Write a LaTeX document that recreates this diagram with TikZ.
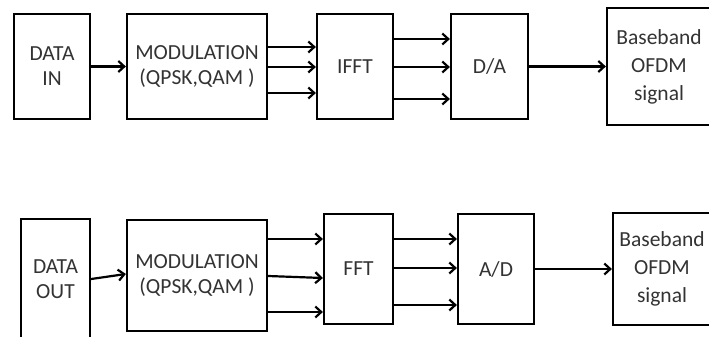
\documentclass[tikz,border=0pt]{standalone}
\usepackage{fontspec}
\setmainfont{Carlito}
\usepackage{xcolor}
\usepackage{tikz}
\usetikzlibrary{arrows.meta,positioning}

\begin{document}
\begin{tikzpicture}[
        x=1pt, y=-1pt,
        font=\fontsize{21.5}{25}\selectfont,
        >={Straight Barb[length=6pt,width=11pt]},
        blk/.style={draw=black, line width=2.2pt, fill=white, inner sep=0pt, align=center, text=black!80},
        sig/.style={->, line width=2.2pt, draw=black}
    ]

    % frame of the picture
    \clip (0,0) rectangle (709,337);
    \fill[white] (0,0) rectangle (709,337);

    % ==========================================
    % (A) Transmitter chain
    % ==========================================
    \node[blk, minimum width=76pt, minimum height=105pt] (data_a) at (52, 66.5) {DATA\\IN};
    \node[blk, minimum width=140pt, minimum height=105pt] (mod_a) at (197, 66.5) {MODULATION\\(QPSK,QAM )};
    \node[blk, minimum width=76pt, minimum height=105pt] (fft_a) at (355, 66.5) {IFFT};
    \node[blk, minimum width=77pt, minimum height=105pt] (conv_a) at (489.5, 66.5) {D/A};
    \node[blk, minimum width=104pt, minimum height=117pt, font=\fontsize{21.5}{28}\selectfont] (out_a) at (659, 66.5) {Baseband\\OFDM\\signal};

    \draw[sig] (data_a.east) -- (mod_a.west);
    \foreach \s/\t in {19.5/19.5, -0.5/-0.5, -26.5/-26.5} {
        \draw[sig] ([yshift=\s pt]mod_a.east) -- ([yshift=\t pt]fft_a.west);
    }
    \foreach \s in {27.5, -0.5, -32.5} {
        \draw[sig] ([yshift=\s pt]fft_a.east) -- ([yshift=\s pt]conv_a.west);
    }
    \draw[sig] (conv_a.east) -- (out_a.west);


    % ==========================================
    % (B) Receiver chain
    % ==========================================
    \node[blk, minimum width=69pt, minimum height=120pt] (data_b) at (55.5, 279) {DATA\\OUT};
    \node[blk, minimum width=140pt, minimum height=111pt] (mod_b) at (197, 275.5) {MODULATION\\(QPSK,QAM )};
    \node[blk, minimum width=69pt, minimum height=110pt] (fft_b) at (358.5, 269) {FFT};
    \node[blk, minimum width=76pt, minimum height=110pt] (conv_b) at (496, 269) {A/D};
    \node[blk, minimum width=98pt, minimum height=112pt, font=\fontsize{21.5}{28}\selectfont] (out_b) at (662, 269) {Baseband\\OFDM\\signal};

    \draw[sig] (data_b.east) -- ([yshift=1.5pt]mod_b.west);
    \foreach \s/\t in {36.5/30, -0.5/-9, -36.5/-43} {
        \draw[sig] ([yshift=\s pt]mod_b.east) -- ([yshift=\t pt]fft_b.west);
    }
    \foreach \s in {30, 1, -36} {
        \draw[sig] ([yshift=\s pt]fft_b.east) -- ([yshift=\s pt]conv_b.west);
    }
    \draw[sig] (conv_b.east) -- (out_b.west);

\end{tikzpicture}
\end{document}
